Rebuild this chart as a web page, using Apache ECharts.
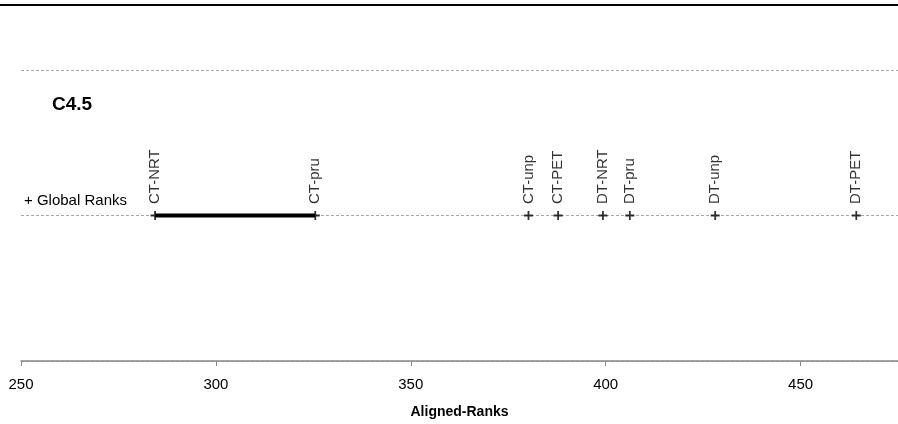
<!DOCTYPE html>
<html><head><meta charset="utf-8">
<script src="https://cdn.jsdelivr.net/npm/echarts@6/dist/echarts.min.js"></script>
<style>html,body{margin:0;padding:0;background:#fff}#c{width:898px;height:424px}</style>
</head><body><div id="c"></div>
<script>
const methods = ['CT-NRT','CT-pru','CT-unp','CT-PET','DT-NRT','DT-pru','DT-unp','DT-PET'];
const ranks = [284.4, 325.5, 380.2, 387.8, 399.3, 406.2, 428.1, 464.3];
const cdGroup = ['CT-NRT','CT-pru'];
const xTicks = [250, 300, 350, 400, 450];
const rowValue = 1;

const FONT = 'Liberation Sans';
const plusPath = 'path://M4,0L6,0L6,4L10,4L10,6L6,6L6,10L4,10L4,6L0,6L0,4L4,4Z';
const chart = echarts.init(document.getElementById('c'));
const pts = methods.map((m,i)=>({value:[ranks[i], rowValue], name:m}));
const barPts = cdGroup.map(m=>[ranks[methods.indexOf(m)], rowValue]);
chart.setOption({
  animation:false,
  textStyle:{fontFamily:FONT},
  grid:{left:21, right:0, top:70, bottom:63, outerBoundsMode:'none', containLabel:false},
  xAxis:{type:'value', min:250, max:475, interval:50,
    axisLine:{show:true, lineStyle:{color:'#888', width:1.5}},
    axisTick:{show:true, length:5, lineStyle:{color:'#888'}, customValues:xTicks},
    axisLabel:{color:'#000', fontSize:15, fontFamily:FONT, margin:16, customValues:xTicks,
      formatter:v=> xTicks.includes(v)? String(v):''},
    splitLine:{show:false},
    name:'Aligned-Ranks', nameLocation:'middle', nameGap:44,
    nameTextStyle:{color:'#000', fontSize:14, fontWeight:'bold', fontFamily:FONT}
  },
  yAxis:{type:'value', min:0, max:2, interval:1, show:true,
    axisLine:{show:false}, axisTick:{show:false}, axisLabel:{show:false},
    splitLine:{show:true, lineStyle:{color:'#aaa', type:[3,2], width:1}}
  },
  graphic:[
    {type:'line', shape:{x1:0,y1:5,x2:898,y2:5}, style:{stroke:'#000', lineWidth:2}},
    {type:'text', left:52, top:95, style:{text:'C4.5', font:'bold 19px '+FONT, fill:'#000'}},
    {type:'text', left:24, top:193, style:{text:'+ Global Ranks', font:'15px '+FONT, fill:'#000'}}
  ],
  series:[
    {type:'line', data:barPts, symbol:'none', lineStyle:{color:'#000', width:4}, z:3},
    {type:'scatter', data:pts, symbol:plusPath, symbolSize:9,
      itemStyle:{color:'#000'}, z:4,
      label:{show:true, position:'top', distance:5, rotate:90, align:'left', verticalAlign:'middle',
        offset:[2,0], formatter:p=>p.name, color:'#000', fontSize:15, fontFamily:FONT}}
  ]
});
</script></body></html>
